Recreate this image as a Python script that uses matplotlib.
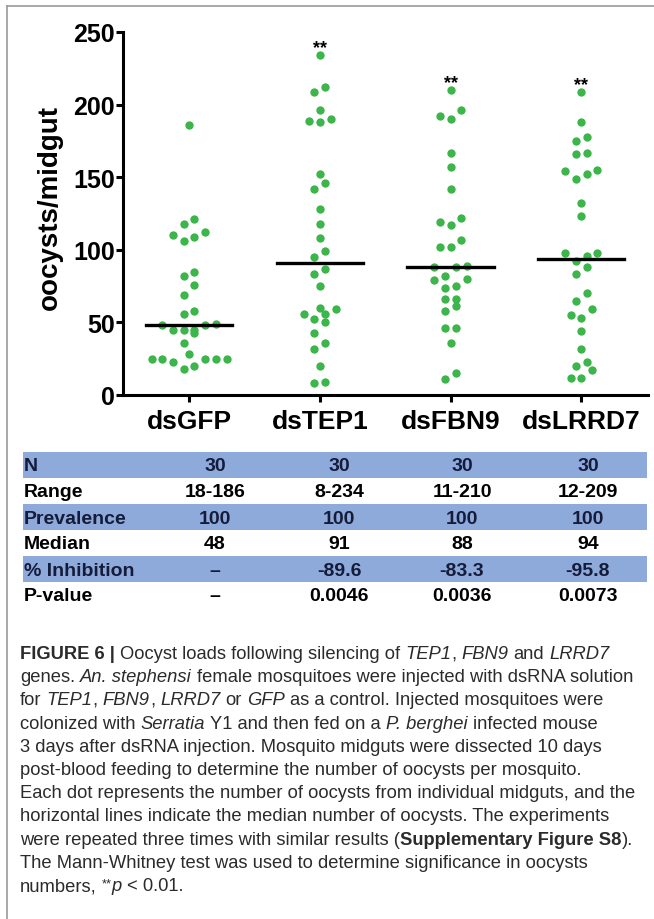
import numpy as np
import matplotlib
matplotlib.use("Agg")
import matplotlib.pyplot as plt
from matplotlib.patches import Rectangle
from matplotlib.lines import Line2D

plt.rcParams['font.family'] = ['Liberation Sans', 'DejaVu Sans']

# ---- data ----
groups = ["dsGFP", "dsTEP1", "dsFBN9", "dsLRRD7"]
gfp = [186, 121, 118, 110, 106, 109, 112, 85, 82, 76, 69, 58, 56,
       49, 48, 45, 43, 45, 45, 48, 36, 28, 25, 25, 23, 18, 20, 25, 25, 25]
tep1 = [234, 209, 212, 196, 189, 188, 190, 152, 146, 142, 128, 118, 108,
        99, 95, 87, 83, 75, 60, 56, 50, 52, 56, 59, 43, 36, 32, 20, 8, 9]
fbn9 = [210, 192, 190, 196, 167, 157, 142, 119, 117, 122, 107, 102, 102,
        88, 88, 89, 82, 79, 80, 74, 75, 66, 66, 61, 58, 46, 46, 36, 11, 15]
lrrd7 = [209, 188, 175, 178, 167, 166, 154, 149, 152, 155, 132, 123, 98,
         96, 98, 92, 88, 83, 70, 65, 59, 55, 53, 44, 32, 23, 17, 20, 12, 12]
signif = ["", "**", "**", "**"]

row_names = ["N", "Range", "Prevalence", "Median", "% Inhibition", "P-value"]
n_vals = ["30", "30", "30", "30"]
range_vals = ["18-186", "8-234", "11-210", "12-209"]
prev_vals = ["100", "100", "100", "100"]
median_vals = ["48", "91", "88", "94"]
inhib_vals = ["\u2013", "-89.6", "-83.3", "-95.8"]
p_vals = ["\u2013", "0.0046", "0.0036", "0.0073"]

W, H = 654, 920
green = "#3cb54a"
band = "#8eaadb"
cap_color = "#2b2b2b"


def swarm_offsets(vals, gap=8.0, step=0.082):
    # prism-like rows: close values share a row, spread from centre outward
    vals = np.asarray(vals, float)
    order = np.argsort(vals, kind="stable")
    offs = np.zeros(len(vals))
    rows, cur = [], [order[0]]
    for idx in order[1:]:
        if vals[idx] - vals[cur[0]] < gap:
            cur.append(idx)
        else:
            rows.append(cur)
            cur = [idx]
    rows.append(cur)
    for row in rows:
        n = len(row)
        if n % 2:
            slots = [0] + [s for k in range(1, n // 2 + 1) for s in (-k, k)]
        else:
            slots = [s for k in range(n // 2) for s in (-(k + 0.5), k + 0.5)]
        for idx, s in zip(row, slots):
            offs[idx] = s * step
    return offs


fig = plt.figure(figsize=(W / 100, H / 100), dpi=100)
ax = fig.add_axes([123 / W, 1 - 396 / H, 525 / W, 363 / H])

for i, vals in enumerate([gfp, tep1, fbn9, lrrd7]):
    offs = swarm_offsets(vals)
    ax.plot(i + offs, vals, 'o', ms=6.0, color=green, mec='none', zorder=3)
    med = np.median(vals)
    ax.plot([i - 0.33, i + 0.33], [med, med], color='black', lw=2.4, zorder=4)
    if signif[i]:
        ax.text(i, max(vals) + 2, signif[i], ha='center', va='baseline',
                fontsize=13, fontweight='bold')

ax.set_xlim(-0.505, 3.51)
ax.set_ylim(0, 250)
ax.set_yticks(np.arange(0, 251, 50))
ax.set_xticks(range(len(groups)))
ax.set_xticklabels(groups, fontsize=19, fontweight='bold')
for lab in ax.get_yticklabels():
    lab.set_fontsize(18)
    lab.set_fontweight('bold')
ax.spines[['top', 'right']].set_visible(False)
ax.spines['left'].set_linewidth(2.2)
ax.spines['bottom'].set_linewidth(2.2)
ax.tick_params(axis='y', length=5, width=2.2, pad=1)
ax.tick_params(axis='x', length=5, width=2.2, pad=5)
ax.set_ylabel("oocysts/midgut", fontsize=20, fontweight='bold')
ax.yaxis.set_label_coords(-0.114, 0.52)

# ---- table under the plot ----
table_rows = [n_vals, range_vals, prev_vals, median_vals, inhib_vals, p_vals]
col_x = [215, 339, 462, 588]
top, rh = 453, 26
for r, (name, vals) in enumerate(zip(row_names, table_rows)):
    y0 = top + r * rh
    tc = 'black'
    if r % 2 == 0:
        fig.add_artist(Rectangle((23 / W, 1 - (y0 + rh) / H), 624 / W, rh / H,
                                 transform=fig.transFigure, color=band, lw=0))
        tc = '#141c3a'
    yc = 1 - (y0 + rh / 2 + 1) / H
    fig.text(24 / W, yc, name, ha='left', va='center', fontsize=14,
             fontweight='bold', color=tc)
    for cx, v in zip(col_x, vals):
        fig.text(cx / W, yc, v, ha='center', va='center', fontsize=14,
                 fontweight='bold', color=tc)

# ---- caption with mixed styles ----
caption = [
    [("FIGURE 6 | ", 'b'), ("Oocyst loads following silencing of ", 'n'), ("TEP1", 'i'),
     (", ", 'n'), ("FBN9 ", 'i'), ("and ", 'n'), ("LRRD7", 'i')],
    [("genes. ", 'n'), ("An. stephensi ", 'i'), ("female mosquitoes were injected with dsRNA solution", 'n')],
    [("for ", 'n'), ("TEP1", 'i'), (", ", 'n'), ("FBN9", 'i'), (", ", 'n'), ("LRRD7 ", 'i'),
     ("or ", 'n'), ("GFP ", 'i'), ("as a control. Injected mosquitoes were", 'n')],
    [("colonized with ", 'n'), ("Serratia ", 'i'), ("Y1 and then fed on a ", 'n'),
     ("P. berghei ", 'i'), ("infected mouse", 'n')],
    [("3 days after dsRNA injection. Mosquito midguts were dissected 10 days", 'n')],
    [("post-blood feeding to determine the number of oocysts per mosquito.", 'n')],
    [("Each dot represents the number of oocysts from individual midguts, and the", 'n')],
    [("horizontal lines indicate the median number of oocysts. The experiments", 'n')],
    [("were repeated three times with similar results (", 'n'),
     ("Supplementary Figure S8", 'b'), (").", 'n')],
    [("The Mann-Whitney test was used to determine significance in oocysts", 'n')],
    [("numbers, ", 'n'), ("**", 's'), ("p ", 'i'), ("< 0.01.", 'n')],
]

renderer = fig.canvas.get_renderer()
cap_size = 13.2


def style_kw(style):
    kw = dict(fontsize=cap_size, color=cap_color)
    if style == 'b':
        kw['fontweight'] = 'bold'
    if style == 'i':
        kw['fontstyle'] = 'italic'
    if style == 's':
        kw['fontsize'] = cap_size * 0.7
    return kw


def text_width(s, kw):
    t = fig.text(0, 0, s, **kw)
    w = t.get_window_extent(renderer).width
    t.remove()
    return w


def space_width(kw):
    return text_width("a a", kw) - text_width("aa", kw)


y = 659
for line in caption:
    x = 20
    for txt, style in line:
        kw = style_kw(style)
        core = txt.rstrip(' ')
        nsp = len(txt) - len(core)
        dy = 4 if style == 's' else 0
        t = fig.text(x / W, 1 - (y - dy) / H, core, ha='left', va='baseline', **kw)
        x += t.get_window_extent(renderer).width + nsp * space_width(kw)
    y += 23.2

# thin frame on the left and top
fig.add_artist(Line2D([7 / W, 7 / W], [0, 1 - 7 / H], color='#9a9a9a', lw=1.2))
fig.add_artist(Line2D([7 / W, 1], [1 - 7 / H, 1 - 7 / H], color='#9a9a9a', lw=1.2))

fig.savefig("out.png", dpi=100)
